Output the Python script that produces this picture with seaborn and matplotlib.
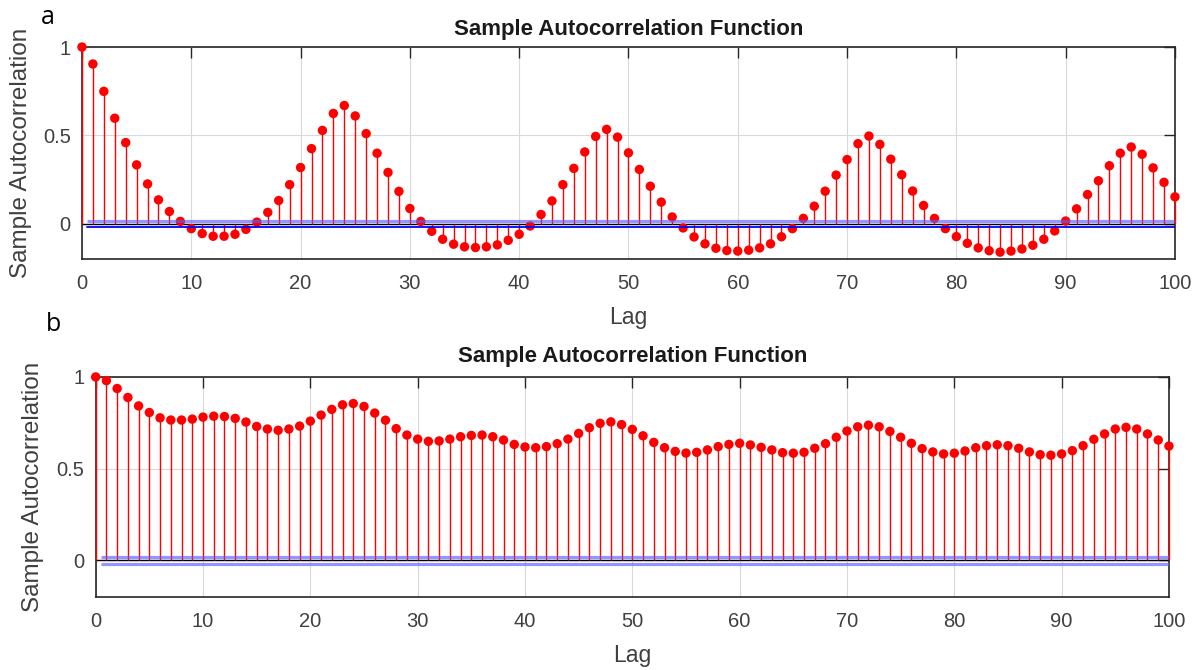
import numpy as np
import pandas as pd
import matplotlib
matplotlib.use("Agg")
import matplotlib.pyplot as plt
import seaborn as sns

# lags shared by both panels
lags = list(range(0, 101))

# panel a: sample ACF
acf_a = [
    1.000, 0.904, 0.749, 0.597, 0.459, 0.333, 0.225, 0.135, 0.069, 0.013,
    -0.028, -0.056, -0.071, -0.071, -0.060, -0.032, 0.009, 0.064, 0.131, 0.221,
    0.318, 0.425, 0.528, 0.624, 0.669, 0.610, 0.510, 0.399, 0.290, 0.183,
    0.086, 0.013, -0.043, -0.088, -0.116, -0.131, -0.135, -0.131, -0.120, -0.094,
    -0.060, -0.013, 0.052, 0.129, 0.221, 0.313, 0.406, 0.494, 0.534, 0.490,
    0.401, 0.307, 0.212, 0.122, 0.038, -0.024, -0.075, -0.114, -0.139, -0.152,
    -0.155, -0.150, -0.137, -0.114, -0.074, -0.028, 0.030, 0.099, 0.184, 0.275,
    0.363, 0.453, 0.496, 0.449, 0.365, 0.277, 0.185, 0.103, 0.030, -0.028,
    -0.073, -0.111, -0.137, -0.153, -0.161, -0.155, -0.143, -0.122, -0.088, -0.041,
    0.015, 0.084, 0.165, 0.243, 0.328, 0.399, 0.434, 0.393, 0.316, 0.234,
    0.152,
]

# panel b
acf_b = [
    1.000, 0.980, 0.937, 0.888, 0.842, 0.806, 0.777, 0.765, 0.765, 0.770,
    0.781, 0.786, 0.784, 0.774, 0.754, 0.730, 0.716, 0.709, 0.716, 0.732,
    0.759, 0.792, 0.823, 0.848, 0.855, 0.839, 0.803, 0.764, 0.718, 0.683,
    0.661, 0.649, 0.651, 0.661, 0.674, 0.681, 0.683, 0.674, 0.656, 0.632,
    0.618, 0.614, 0.620, 0.636, 0.661, 0.692, 0.723, 0.747, 0.755, 0.740,
    0.714, 0.679, 0.643, 0.614, 0.594, 0.585, 0.589, 0.602, 0.620, 0.632,
    0.638, 0.629, 0.616, 0.602, 0.587, 0.584, 0.589, 0.611, 0.636, 0.671,
    0.705, 0.728, 0.737, 0.728, 0.703, 0.671, 0.638, 0.609, 0.591, 0.580,
    0.584, 0.596, 0.614, 0.625, 0.630, 0.625, 0.611, 0.591, 0.576, 0.573,
    0.580, 0.598, 0.625, 0.660, 0.689, 0.716, 0.725, 0.716, 0.689, 0.656,
    0.623,
]

# confidence bounds (upper, lower)
bounds_a = [0.017, -0.020]
bounds_b = [0.017, -0.019]

sns.set_style("white")
plt.rcParams["font.family"] = ["Liberation Sans", "DejaVu Sans"]

fig = plt.figure(figsize=(12.02, 6.70), dpi=100)
ax_a = fig.add_axes([0.0682, 0.6134, 0.9093, 0.3164])
ax_b = fig.add_axes([0.0796, 0.1090, 0.8929, 0.3284])


def draw_acf(ax, values, bounds, thin_lower, ylabelpad, titlepad):
    df = pd.DataFrame({"lag": lags, "acf": values})
    ax.grid(True, color="#d9d9d9", linewidth=0.8)
    ax.set_axisbelow(True)
    ax.axhline(0, color="black", linewidth=1.0, zorder=2)
    ax.vlines(df["lag"], 0, df["acf"], color="#ff0000", linewidth=1.0,
              zorder=3, clip_on=False)
    sns.scatterplot(data=df, x="lag", y="acf", ax=ax, color="#ff0000",
                    s=46, edgecolor="none", zorder=4, legend=False, clip_on=False)
    # bounds
    band = dict(color="#5c5cff", alpha=0.65, linewidth=2.3, zorder=5,
                solid_capstyle="butt")
    ax.plot([0.5, 100], [bounds[0]] * 2, **band)
    if thin_lower:
        ax.plot([0.5, 100], [bounds[1]] * 2, color="#0000ff",
                linewidth=1.3, zorder=5)
    else:
        ax.plot([0.5, 100], [bounds[1]] * 2, **band)

    ax.set_xlim(0, 100)
    ax.set_ylim(-0.2, 1)
    ax.set_xticks(range(0, 101, 10))
    ax.set_yticks([0, 0.5, 1])
    ax.set_yticklabels(["0", "0.5", "1"])
    ax.tick_params(direction="in", length=8, width=1.0, top=True, right=True,
                   labelsize=14.5, labelcolor="#404040", color="#262626")
    ax.tick_params(axis="x", pad=11)
    ax.tick_params(axis="y", pad=8)
    for sp in ax.spines.values():
        sp.set_color("#262626")
        sp.set_linewidth(1.2)
    ax.set_title("Sample Autocorrelation Function", fontsize=16,
                 fontweight="bold", color="#1a1a1a", pad=titlepad)
    ax.set_xlabel("Lag", fontsize=16.5, color="#404040", labelpad=9)
    ax.set_ylabel("Sample Autocorrelation", fontsize=17.5, color="#404040",
                  labelpad=ylabelpad)


draw_acf(ax_a, acf_a, bounds_a, thin_lower=True, ylabelpad=8, titlepad=9)
draw_acf(ax_b, acf_b, bounds_b, thin_lower=False, ylabelpad=9, titlepad=11)

fig.text(48 / 1202, 1 - 17 / 670, "a", fontsize=18, family=["Open Sans", "DejaVu Sans"],
         ha="center", va="center", color="black")
fig.text(53 / 1202, 1 - 325 / 670, "b", fontsize=18, family=["Open Sans", "DejaVu Sans"],
         ha="center", va="center", color="black")

fig.savefig("out.png", dpi=100)
